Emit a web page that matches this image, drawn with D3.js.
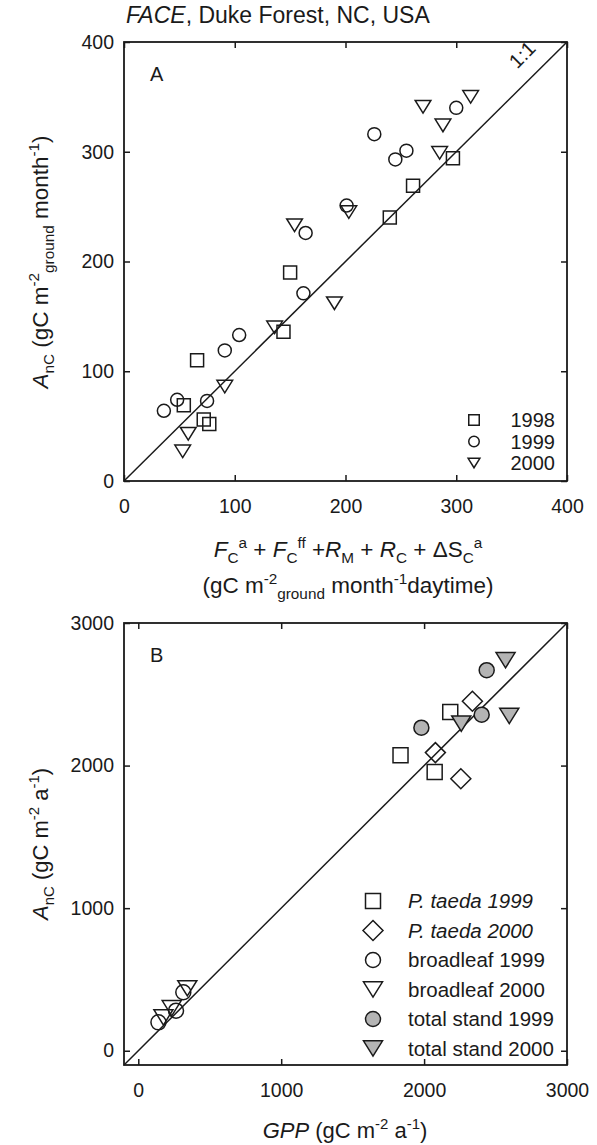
<!DOCTYPE html>
<html><head><meta charset="utf-8">
<script src="https://cdn.jsdelivr.net/npm/d3@7"></script>
<style>
html,body{margin:0;padding:0;background:#fff;}
text{font-family:"Liberation Sans",Arial,Helvetica,sans-serif;fill:#1a1a1a;}
</style></head>
<body>
<svg id="chart" width="597" height="1145"></svg>
<script>
// ---------- Panel A data (x, y) ----------
const ticksA = [0, 100, 200, 300, 400];
const yearsA = ["1998", "1999", "2000"];
const a1998 = [[54,69],[66,110],[72,56],[77,52],[144,136],[150,190],[240,240],[261,269],[297,294]];
const a1999 = [[36,64],[48,74],[75,73],[91,119],[104,133],[162,171],[164,226],[201,251],[226,316],[245,293],[255,301],[300,340]];
const a2000 = [[53,27],[58,43],[91,86],[136,140],[190,162],[154,233],[203,245],[285,299],[288,324],[270,341],[313,350]];

// ---------- Panel B data (GPP, AnC) ----------
const ticksB = [0, 1000, 2000, 3000];
const seriesB = ["P. taeda 1999", "P. taeda 2000", "broadleaf 1999", "broadleaf 2000", "total stand 1999", "total stand 2000"];
const pTaeda1999 = [[1835,2072],[2074,1955],[2183,2376]];
const pTaeda2000 = [[2079,2091],[2257,1908],[2338,2451]];
const broad1999 = [[141,199],[264,281],[315,410]];
const broad2000 = [[176,234],[234,298],[343,438]];
const total1999 = [[1981,2266],[2403,2357],[2438,2669]];
const total2000 = [[2260,2294],[2596,2348],[2570,2739]];

const INK = "#1a1a1a";
const GRAY = "#b4b4b4";
const svg = d3.select("#chart");

function symPath(type, s) {
  const h = s / 2;
  if (type === "square") return `M${-h},${-h}H${h}V${h}H${-h}Z`;
  if (type === "diamond") return `M0,${-h}L${h},0L0,${h}L${-h},0Z`;
  if (type === "triangle") { const w = s * 0.56, t = s * 0.45; return `M${-w},${-t}L${w},${-t}L0,${t}Z`; }
  return `M${h},0A${h},${h} 0 1,1 ${-h},0A${h},${h} 0 1,1 ${h},0Z`;
}

function rich(g, parts, x, y, size, anchor, rotate) {
  const t = g.append("text").attr("font-size", size).attr("text-anchor", anchor || "start");
  if (rotate) t.attr("transform", `translate(${x},${y}) rotate(${rotate})`);
  else t.attr("x", x).attr("y", y);
  let cur = 0;
  parts.forEach(p => {
    const fs = (p.sub || p.sup) ? size * 0.68 : size;
    const target = p.sub ? size * 0.28 : p.sup ? -size * 0.42 : 0;
    const ts = t.append("tspan").text(p.t).attr("font-size", fs).attr("dy", target - cur);
    if (p.it) ts.attr("font-style", "italic");
    cur = target;
  });
  return t;
}

function frame(g, x, y, ticksX, ticksY, opt) {
  const [x0, x1] = x.range(), [y0, y1] = y.range();
  const ax = d3.axisBottom(x).tickValues(ticksX).tickSizeInner(-6).tickSizeOuter(0).tickPadding(opt.padX).tickFormat(d3.format("d"));
  const gx = g.append("g").attr("transform", `translate(0,${y0})`).call(ax);
  const axT = d3.axisTop(x).tickValues(ticksX).tickSizeInner(-6).tickSizeOuter(0).tickFormat("");
  const gt = g.append("g").attr("transform", `translate(0,${y1})`).call(axT);
  const ay = d3.axisLeft(y).tickValues(ticksY).tickSizeInner(-6).tickSizeOuter(0).tickPadding(opt.padY).tickFormat(d3.format("d"));
  const gy = g.append("g").attr("transform", `translate(${x0},0)`).call(ay);
  const ayR = d3.axisRight(y).tickValues(ticksY).tickSizeInner(-6).tickSizeOuter(0).tickFormat("");
  const gr = g.append("g").attr("transform", `translate(${x1},0)`).call(ayR);
  [gx, gt, gy, gr].forEach(a => {
    a.select(".domain").remove();
    a.selectAll("line").attr("stroke", INK).attr("stroke-width", 1.5);
    a.selectAll("text").attr("font-size", opt.fs).attr("fill", INK).attr("font-family", null);
  });
  g.append("rect").attr("x", x0).attr("y", y1).attr("width", x1 - x0).attr("height", y0 - y1)
    .attr("fill", "none").attr("stroke", INK).attr("stroke-width", 1.8);
}

// =================== Panel A ===================
const xA = d3.scaleLinear().domain([0, 400]).range([124, 567]);
const yA = d3.scaleLinear().domain([0, 400]).range([481, 42]);
const gA = svg.append("g");

const title = gA.append("text").attr("x", 126).attr("y", 23).attr("font-size", 23);
title.append("tspan").text("FACE").attr("font-style", "italic");
title.append("tspan").text(", Duke Forest, NC, USA");

gA.append("line").attr("x1", xA(0)).attr("y1", yA(0)).attr("x2", xA(400)).attr("y2", yA(400))
  .attr("stroke", INK).attr("stroke-width", 1.5);

const symA = {"1998": "square", "1999": "circle", "2000": "triangle"};
const dataA = {"1998": a1998, "1999": a1999, "2000": a2000};
yearsA.forEach(yr => {
  gA.append("g").selectAll("path").data(dataA[yr]).join("path")
    .attr("d", symPath(symA[yr], yr === "2000" ? 14 : 13))
    .attr("transform", d => `translate(${xA(d[0])},${yA(d[1])})`)
    .attr("fill", "none").attr("stroke", INK).attr("stroke-width", 1.5);
});

frame(gA, xA, yA, ticksA, ticksA, {padX: 18, padY: 10, fs: 19.5});

gA.append("text").attr("x", 150).attr("y", 81).attr("font-size", 20).text("A");
gA.append("text").attr("font-size", 20).attr("text-anchor", "middle")
  .attr("transform", `translate(${xA(364)},${yA(384)}) rotate(-45)`).text("1:1");

yearsA.forEach((yr, i) => {
  const ly = 420 + i * 21.5;
  gA.append("path").attr("d", symPath(symA[yr], 10.5)).attr("transform", `translate(474,${ly})`)
    .attr("fill", "none").attr("stroke", INK).attr("stroke-width", 1.5);
  gA.append("text").attr("x", 555).attr("y", ly + 7).attr("font-size", 20).attr("text-anchor", "end").text(yr);
});

rich(gA, [{t:"F",it:true},{t:"C",sub:true},{t:"a",sup:true},{t:" + "},{t:"F",it:true},{t:"C",sub:true},{t:"ff",sup:true},
  {t:" +"},{t:"R",it:true},{t:"M",sub:true},{t:" + "},{t:"R",it:true},{t:"C",sub:true},{t:" + \u0394S"},{t:"C",sub:true},{t:"a",sup:true}],
  348, 557, 22.5, "middle");
rich(gA, [{t:"(gC m"},{t:"-2",sup:true},{t:"ground",sub:true},{t:" month"},{t:"-1",sup:true},{t:"daytime)"}],
  348, 593, 22.5, "middle");
rich(gA, [{t:"A",it:true},{t:"nC",sub:true},{t:" (gC m"},{t:"-2",sup:true},{t:"ground",sub:true},{t:" month"},{t:"-1",sup:true},{t:")"}],
  48, 262, 22.5, "middle", -90);

// =================== Panel B ===================
const xB = d3.scaleLinear().domain([-100, 3000]).range([124, 567]);
const yB = d3.scaleLinear().domain([-100, 3000]).range([1065, 623]);
const gB = svg.append("g");

gB.append("line").attr("x1", xB(-100)).attr("y1", yB(-100)).attr("x2", xB(3000)).attr("y2", yB(3000))
  .attr("stroke", INK).attr("stroke-width", 1.5);

const dataB = [pTaeda1999, pTaeda2000, broad1999, broad2000, total1999, total2000];
const symB = ["square", "diamond", "circle", "triangle", "circle", "triangle"];
const sizeB = [15, 20, 15, 17, 15, 17];
const fillB = ["none", "none", "none", "none", GRAY, GRAY];
const italB = [true, true, false, false, false, false];

dataB.forEach((pts, i) => {
  gB.append("g").selectAll("path").data(pts).join("path")
    .attr("d", symPath(symB[i], sizeB[i]))
    .attr("transform", d => `translate(${xB(d[0])},${yB(d[1])})`)
    .attr("fill", fillB[i]).attr("stroke", INK).attr("stroke-width", 1.5);
});

frame(gB, xB, yB, ticksB, ticksB, {padX: 18, padY: 10, fs: 19.5});

gB.append("text").attr("x", 150).attr("y", 662).attr("font-size", 20).text("B");

seriesB.forEach((s, i) => {
  const ly = 901 + i * 29.5;
  gB.append("path").attr("d", symPath(symB[i], sizeB[i])).attr("transform", `translate(373,${ly})`)
    .attr("fill", fillB[i]).attr("stroke", INK).attr("stroke-width", 1.5);
  const t = gB.append("text").attr("x", 408).attr("y", ly + 7).attr("font-size", 20.5).text(s);
  if (italB[i]) t.attr("font-style", "italic");
});

rich(gB, [{t:"GPP",it:true},{t:" (gC m"},{t:"-2",sup:true},{t:" a"},{t:"-1",sup:true},{t:")"}],
  345, 1138, 22, "middle");
rich(gB, [{t:"A",it:true},{t:"nC",sub:true},{t:" (gC m"},{t:"-2",sup:true},{t:" a"},{t:"-1",sup:true},{t:")"}],
  48, 844, 22, "middle", -90);
</script>
</body></html>
